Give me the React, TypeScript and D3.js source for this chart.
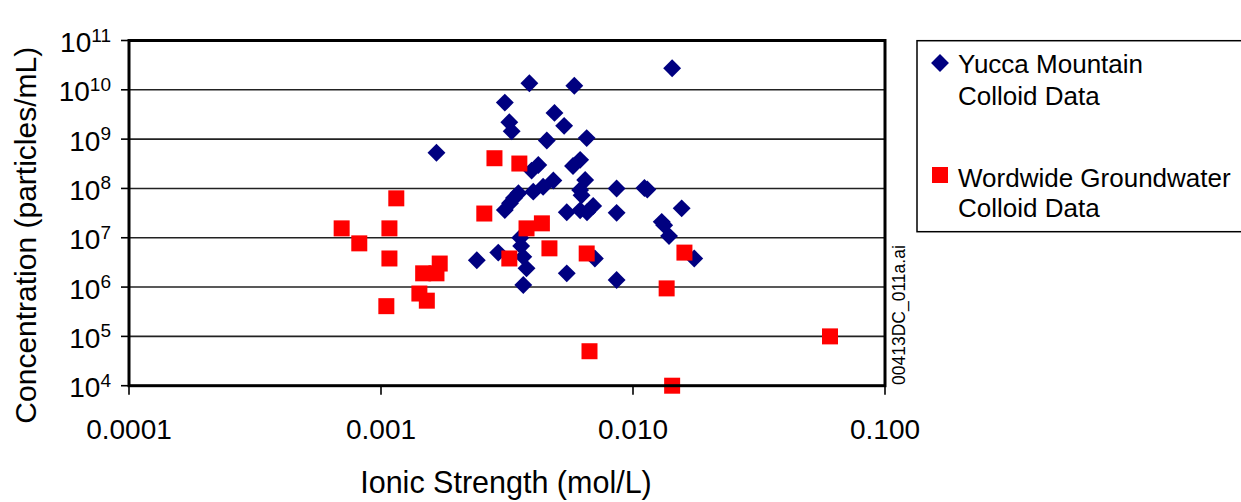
import React from "react";
import * as d3 from "d3";

const yuccaIonic = [
  1.66e-3, 2.4e-3, 2.92e-3, 3.1e-3, 3.23e-3, 3.3e-3, 3.88e-3, 5.85e-3, 4.88e-3, 5.33e-3,
  4.55e-3, 6.55e-3, 5.78e-3, 6.17e-3, 4.21e-3, 3.96e-3, 4.83e-3, 4.4e-3, 4.02e-3, 3.51e-3,
  3.25e-3, 3.37e-3, 3.1e-3, 6.46e-3, 6.17e-3, 6.25e-3, 5.46e-3, 6.17e-3, 6.57e-3, 6.95e-3,
  8.61e-3, 8.61e-3, 1.11e-2, 1.14e-2, 1.43e-2, 1.56e-2, 1.3e-2, 1.33e-2, 1.39e-2, 1.75e-2,
  3.57e-3, 3.6e-3, 3.67e-3, 3.78e-3, 3.67e-3, 5.46e-3, 7.06e-3, 8.61e-3,
];
const yuccaConc = [
  5.3e8, 3.5e6, 5.0e6, 5.5e9, 2.2e9, 1.44e9, 1.36e10, 1.21e10, 3.4e9, 1.86e9,
  9.4e8, 1.05e9, 2.85e8, 3.8e8, 2.98e8, 2.3e8, 1.45e8, 1.08e8, 8.6e7, 8.0e7,
  5.0e7, 6.4e7, 3.65e7, 1.48e8, 9.3e7, 7.3e7, 3.3e7, 3.6e7, 3.3e7, 4.4e7,
  1.0e8, 3.2e7, 1.02e8, 0.95e8, 2.73e10, 3.95e7, 2.1e7, 1.8e7, 1.08e7, 3.8e6,
  1.0e7, 6.8e6, 4.1e6, 2.4e6, 1.1e6, 1.9e6, 3.8e6, 1.39e6,
];

const worldIonic = [
  6.98e-4, 8.2e-4, 1.08e-3, 1.15e-3, 1.08e-3, 1.05e-3, 1.42e-3, 1.52e-3, 1.47e-3, 1.66e-3,
  1.71e-3, 2.57e-3, 2.82e-3, 3.54e-3, 3.23e-3, 3.78e-3, 4.35e-3, 4.66e-3, 6.55e-3, 6.72e-3,
  1.36e-2, 1.6e-2, 1.43e-2, 6.05e-2,
];
const worldConc = [
  1.55e7, 7.7e6, 1.55e7, 6.3e7, 3.8e6, 4.1e5, 7.4e5, 5.3e5, 1.9e6, 1.9e6,
  3.0e6, 3.1e7, 4.1e8, 3.2e8, 3.8e6, 1.55e7, 1.96e7, 6.1e6, 4.8e6, 5.0e4,
  9.4e5, 5.0e6, 1.0e4, 1.0e5,
];

const xTicks = [1e-4, 1e-3, 1e-2, 1e-1];
const xTickLabels = ["0.0001", "0.001", "0.010", "0.100"];
const yTicks = [1e4, 1e5, 1e6, 1e7, 1e8, 1e9, 1e10, 1e11];
const yTickExps = ["4", "5", "6", "7", "8", "9", "10", "11"];

const seriesNames = ["Yucca Mountain", "Colloid Data", "Wordwide Groundwater", "Colloid Data"];

const FONT = "'Liberation Sans', Arial, Helvetica, sans-serif";
const BLUE = "#000080";
const RED = "#FF0000";

export default function App() {
  const left = 129, right = 885, top = 40.5, bottom = 385.7;
  const x = d3.scaleLog().domain([1e-4, 1e-1]).range([left, right]);
  const y = d3.scaleLog().domain([1e4, 1e11]).range([bottom, top]);

  const diamond = d3.symbol().type(d3.symbolSquare).size(160)();
  const square = d3.symbol().type(d3.symbolSquare).size(256)();

  return (
    <svg
      width={1241}
      height={502}
      style={{ position: "absolute", left: 0, top: 0, background: "#fff" }}
      fontFamily={FONT}
    >
      <rect x={0} y={0} width={1241} height={502} fill="#fff" />
      {/* gridlines */}
      {yTicks.slice(1, -1).map((t) => (
        <line key={"g" + t} x1={left} x2={right} y1={y(t)} y2={y(t)} stroke="#222" strokeWidth={1.6} />
      ))}
      {/* y ticks */}
      {yTicks.map((t, i) => (
        <g key={"yt" + t}>
          <line x1={left - 8} x2={left} y1={y(t)} y2={y(t)} stroke="#000" strokeWidth={1.6} />
          <text x={111} y={y(t) + 11.5} textAnchor="end" fontSize={28} fill="#000">
            10
            <tspan fontSize={19} dy={-10.5}>{yTickExps[i]}</tspan>
          </text>
        </g>
      ))}
      {/* x ticks */}
      {xTicks.map((t, i) => (
        <g key={"xt" + t}>
          <line x1={x(t)} x2={x(t)} y1={bottom} y2={bottom + 9} stroke="#000" strokeWidth={1.6} />
          <text x={x(t)} y={439} textAnchor="middle" fontSize={28} fill="#000">
            {xTickLabels[i]}
          </text>
        </g>
      ))}
      {/* points */}
      {yuccaIonic.map((v, i) => (
        <path
          key={"b" + i}
          d={diamond}
          transform={`translate(${x(v)},${y(yuccaConc[i])}) rotate(45)`}
          fill={BLUE}
        />
      ))}
      {worldIonic.map((v, i) => (
        <path key={"r" + i} d={square} transform={`translate(${x(v)},${y(worldConc[i])})`} fill={RED} />
      ))}
      {/* frame */}
      <rect x={left} y={top} width={right - left} height={bottom - top} fill="none" stroke="#000" strokeWidth={3} />

      {/* axis titles */}
      <text
        transform={`translate(36,${(top + 430) / 2}) rotate(-90)`}
        textAnchor="middle"
        fontSize={30}
        fill="#000"
      >
        Concentration (particles/mL)
      </text>
      <text x={506} y={493} textAnchor="middle" fontSize={30.5} fill="#000">
        Ionic Strength (mol/L)
      </text>

      {/* side id */}
      <text transform={`translate(905,385) rotate(-90)`} fontSize={17.5} fill="#000">
        00413DC_011a.ai
      </text>

      {/* legend */}
      <rect x={917} y={40.7} width={340} height={191} fill="none" stroke="#000" strokeWidth={1.5} />
      <path d={diamond} transform={`translate(940,63) rotate(45)`} fill={BLUE} />
      <text x={958} y={73} fontSize={26} fill="#000">{seriesNames[0]}</text>
      <text x={958} y={105} fontSize={26} fill="#000">{seriesNames[1]}</text>
      <path d={square} transform={`translate(940,175)`} fill={RED} />
      <text x={958} y={187} fontSize={26} fill="#000">{seriesNames[2]}</text>
      <text x={958} y={217} fontSize={26} fill="#000">{seriesNames[3]}</text>
    </svg>
  );
}
